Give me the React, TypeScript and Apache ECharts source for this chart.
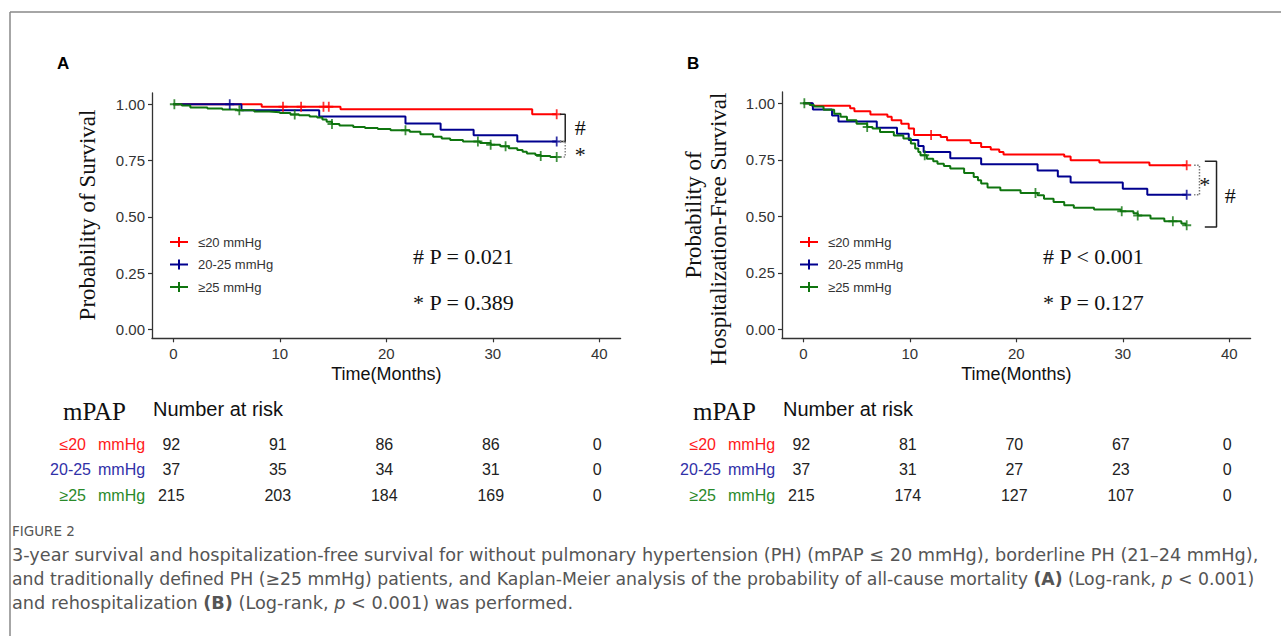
import React, { useEffect, useRef } from "react";
import * as echarts from "echarts";

const SANS = "'Liberation Sans', Arial, sans-serif";
const SERIF = "'Liberation Serif', 'Times New Roman', serif";
const CAP = "'DejaVu Sans', 'Open Sans', sans-serif";

const xTicks = [0, 10, 20, 30, 40];
const yTicks = [0, 0.25, 0.5, 0.75, 1];
const riskTimes = [0, 10, 20, 30, 40];

const legendLabels = ["≤20 mmHg", "20-25 mmHg", "≥25 mmHg"];
const tablePrefixes = ["≤20", "20-25", "≥25"];
const tableUnit = "mmHg";
const groupColors = ["#ff0000", "#00008f", "#0f750f"];
const tableColors = ["#ff1a1a", "#3030a8", "#2a8a2a"];

// Panel A: probability of survival, [month, value]
const survA_le20 = [[0, 1], [8.3, 0.989], [15.7, 0.978], [33.7, 0.956], [36, 0.956]];
const survA_2025 = [[0, 1], [6.4, 0.973], [13.7, 0.946], [21.8, 0.914], [25.1, 0.887], [28.2, 0.862], [32.3, 0.835], [36, 0.835]];
const survA_ge25 = [[0, 1], [0.8, 0.995], [1.6, 0.986], [3.2, 0.981], [4.6, 0.977], [6.0, 0.973], [7.6, 0.968], [9.0, 0.965], [10.0, 0.961], [11.0, 0.955], [11.8, 0.951], [12.8, 0.946], [13.5, 0.941], [14.0, 0.932], [14.4, 0.922], [14.9, 0.912], [15.6, 0.906], [16.9, 0.899], [18.0, 0.895], [19.2, 0.89], [20.4, 0.884], [22.2, 0.878], [23.2, 0.867], [24.4, 0.856], [25.2, 0.848], [26.0, 0.841], [27.2, 0.835], [28.8, 0.828], [29.8, 0.82], [30.7, 0.813], [31.5, 0.805], [32.3, 0.797], [32.8, 0.789], [33.2, 0.781], [34.0, 0.775], [34.5, 0.77], [35.4, 0.766], [36, 0.766]];
const censA_le20 = [10.3, 12.0, 14.1, 14.6, 36];
const censA_2025 = [5.3, 36];
const censA_ge25 = [0.1, 6.2, 11.4, 14.9, 21.8, 28.6, 29.8, 31.2, 34.5, 36];

// Panel B: probability of hospitalization-free survival
const survB_le20 = [[0, 1], [0.8, 0.989], [4.4, 0.978], [4.8, 0.965], [6.3, 0.95], [7.9, 0.94], [8.3, 0.925], [9.2, 0.91], [9.9, 0.888], [10.4, 0.86], [12.9, 0.851], [13.5, 0.836], [15.7, 0.824], [16.7, 0.807], [17.6, 0.795], [18.4, 0.785], [18.8, 0.773], [24.5, 0.765], [25.1, 0.748], [27.8, 0.738], [32.5, 0.726], [36, 0.726]];
const survB_2025 = [[0, 1], [0.9, 0.973], [2.7, 0.946], [3.3, 0.919], [6.9, 0.892], [8.8, 0.865], [9.9, 0.838], [10.8, 0.811], [11.3, 0.784], [13.8, 0.757], [16.7, 0.73], [22.0, 0.703], [23.9, 0.676], [25.1, 0.649], [30.0, 0.622], [32.3, 0.595], [36, 0.595]];
const survB_ge25 = [[0, 1], [0.6, 0.993], [1.0, 0.986], [1.9, 0.972], [2.9, 0.954], [3.5, 0.94], [4.1, 0.925], [5.0, 0.91], [6.0, 0.895], [6.5, 0.888], [7.2, 0.873], [8.5, 0.858], [9.4, 0.844], [10.1, 0.822], [10.5, 0.8], [10.8, 0.785], [11.0, 0.77], [11.6, 0.755], [12.2, 0.744], [12.6, 0.733], [13.2, 0.722], [13.8, 0.711], [15.1, 0.692], [16.0, 0.674], [16.4, 0.66], [16.7, 0.645], [17.3, 0.627], [18.5, 0.615], [20.4, 0.603], [22.0, 0.593], [22.6, 0.578], [23.5, 0.563], [24.5, 0.549], [25.4, 0.538], [27.3, 0.53], [29.8, 0.522], [31.0, 0.513], [31.4, 0.504], [32.6, 0.49], [33.9, 0.478], [35.5, 0.468], [35.9, 0.46], [36, 0.46]];
const censB_le20 = [12.0, 36];
const censB_2025 = [36];
const censB_ge25 = [0.1, 6.0, 11.4, 21.8, 29.9, 31.4, 34.7, 36];

const riskA_le20 = [92, 91, 86, 86, 0];
const riskA_2025 = [37, 35, 34, 31, 0];
const riskA_ge25 = [215, 203, 184, 169, 0];
const riskB_le20 = [92, 81, 70, 67, 0];
const riskB_2025 = [37, 31, 27, 23, 0];
const riskB_ge25 = [215, 174, 127, 107, 0];

const pTextA = ["# P = 0.021", "* P = 0.389"];
const pTextB = ["# P < 0.001", "* P = 0.127"];

const captionTitle = "FIGURE 2";
const captionLines = [
  "3-year survival and hospitalization-free survival for without pulmonary hypertension (PH) (mPAP ≤ 20 mmHg), borderline PH (21–24 mmHg),",
  "and traditionally defined PH (≥25 mmHg) patients, and Kaplan-Meier analysis of the probability of all-cause mortality {b|(A)} (Log-rank, {i|p} < 0.001)",
  "and rehospitalization {b|(B)} (Log-rank, {i|p} < 0.001) was performed.",
];
const captionSizes = [17.7, 17.3, 17.7];

const PLUS = "path://M4,0H6V4H10V6H6V10H4V6H0V4H4Z";

function stepAt(data: number[][], t: number) {
  let v = data[0][1];
  for (const [x, y] of data) if (x <= t) v = y;
  return v;
}
const lastVal = (d: number[][]) => d[d.length - 1][1];

function panelSeries(g: number, curves: number[][][], censors: number[][]) {
  const out: any[] = [];
  curves.forEach((d, k) =>
    out.push({
      type: "line", xAxisIndex: g, yAxisIndex: g, data: d, step: "end", showSymbol: false,
      lineStyle: { color: groupColors[k], width: 2 }, itemStyle: { color: groupColors[k] },
      z: 2 + k, silent: true,
    })
  );
  censors.forEach((c, k) =>
    out.push({
      type: "scatter", xAxisIndex: g, yAxisIndex: g,
      data: c.map((t) => [t, stepAt(curves[k], t)]),
      symbol: PLUS, symbolSize: [9, 10], itemStyle: { color: groupColors[k] },
      z: 5 + k, silent: true,
    })
  );
  return out;
}

function bracket(g: number, x0: number, x1: number, y1: number, y2: number, color: string, type: string) {
  return {
    type: "line", xAxisIndex: g, yAxisIndex: g, showSymbol: false, silent: true, z: 8,
    data: [[x0, y1], [x1, y1], [x1, y2], [x0, y2]],
    lineStyle: { color, width: 1.5, type },
  };
}

function xAxis(g: number) {
  return {
    type: "value", gridIndex: g, min: -2, max: 42,
    axisLine: { show: true, onZero: false, lineStyle: { color: "#333", width: 1.3 } },
    axisTick: { show: true, length: 4, customValues: xTicks, lineStyle: { color: "#333", width: 1.2 } },
    axisLabel: { customValues: xTicks, color: "#333", fontSize: 15, fontFamily: SANS, margin: 8 },
    splitLine: { show: false },
  };
}
function yAxis(g: number) {
  return {
    type: "value", gridIndex: g, min: -0.04, max: 1.05,
    axisLine: { show: true, onZero: false, lineStyle: { color: "#333", width: 1.3 } },
    axisTick: { show: true, length: 4, customValues: yTicks, lineStyle: { color: "#333", width: 1.2 } },
    axisLabel: { customValues: yTicks, color: "#333", fontSize: 15, fontFamily: SANS, margin: 7, formatter: (v: number) => v.toFixed(2) },
    splitLine: { show: false },
  };
}

function txt(x: number, y: number, text: string, font: string, fill: string, align = "left", extra: any = {}) {
  return {
    type: "text", x, y, silent: true, ...extra,
    style: { text, font, fill, textAlign: align, textVerticalAlign: "middle", ...(extra.style || {}) },
  };
}

export default function App() {
  const ref = useRef<HTMLDivElement>(null);
  useEffect(() => {
    if (!ref.current) return;
    const chart = echarts.init(ref.current, null, { renderer: "svg" });
    const curvesA = [survA_le20, survA_2025, survA_ge25];
    const curvesB = [survB_le20, survB_2025, survB_ge25];
    const option: any = {
      animation: false,
      backgroundColor: "#ffffff",
      grid: [
        { left: 152, top: 93, width: 468.6, height: 245.3 },
        { left: 782, top: 92, width: 468.6, height: 246.3 },
      ],
      xAxis: [xAxis(0), xAxis(1)],
      yAxis: [yAxis(0), yAxis(1)],
      series: [
        ...panelSeries(0, curvesA, [censA_le20, censA_2025, censA_ge25]),
        ...panelSeries(1, curvesB, [censB_le20, censB_2025, censB_ge25]),
        bracket(0, 36.3, 36.8, lastVal(survA_le20), lastVal(survA_2025), "#222", "solid"),
        bracket(0, 36.3, 36.8, lastVal(survA_2025), lastVal(survA_ge25), "#888", "dotted"),
        bracket(1, 36.7, 37.2, lastVal(survB_le20), lastVal(survB_2025), "#777", "dotted"),
        bracket(1, 37.7, 38.8, lastVal(survB_le20) + 0.017, lastVal(survB_ge25) - 0.007, "#222", "solid"),
      ],
    };
    chart.setOption(option);

    const px = (g: number, t: number, v: number) => chart.convertToPixel({ gridIndex: g } as any, [t, v]) as number[];
    const g: any[] = [];

    // frame
    g.push({ type: "line", silent: true, shape: { x1: 10, y1: 12, x2: 10, y2: 640 }, style: { stroke: "#888", lineWidth: 1.5 } });
    g.push({ type: "line", silent: true, shape: { x1: 10, y1: 12, x2: 1285, y2: 12 }, style: { stroke: "#888", lineWidth: 1.5 } });

    const panels = [
      { id: "A", dx: 0, grid: 0, curves: curvesA, p: pTextA, risk: [riskA_le20, riskA_2025, riskA_ge25] },
      { id: "B", dx: 630, grid: 1, curves: curvesB, p: pTextB, risk: [riskB_le20, riskB_2025, riskB_ge25] },
    ];
    const prefixRight = [86, 91, 86];
    panels.forEach((P) => {
      const dx = P.dx;
      g.push(txt(57 + dx, 63, P.id, `bold 17px ${SANS}`, "#000"));
      // legend
      legendLabels.forEach((lab, k) => {
        const y = 242 + k * 22.5;
        g.push({ type: "line", silent: true, shape: { x1: 170 + dx, y1: y, x2: 188 + dx, y2: y }, style: { stroke: groupColors[k], lineWidth: 2 } });
        g.push({ type: "line", silent: true, shape: { x1: 179 + dx, y1: y - 5, x2: 179 + dx, y2: y + 5 }, style: { stroke: groupColors[k], lineWidth: 2 } });
        g.push(txt(198 + dx, y, lab, `13px ${SANS}`, "#333"));
      });
      // p values
      g.push(txt(413 + dx, 256, P.p[0], `22px ${SERIF}`, "#111"));
      g.push(txt(413 + dx, 302, P.p[1], `22px ${SERIF}`, "#111"));
      // x title
      const c20 = px(P.grid, 20, 0);
      g.push(txt(c20[0], 374, "Time(Months)", `18px ${SANS}`, "#111", "center"));
      // table
      g.push(txt(63 + dx, 411, "mPAP", `25px ${SERIF}`, "#111"));
      g.push(txt(153 + dx, 409, "Number at risk", `20px ${SANS}`, "#111"));
      P.risk.forEach((row, k) => {
        const y = 444 + k * 25.5;
        g.push(txt(prefixRight[k] + dx, y, tablePrefixes[k], `16px ${SANS}`, tableColors[k], "right"));
        g.push(txt(98 + dx, y, tableUnit, `16px ${SANS}`, tableColors[k], "left"));
        row.forEach((n, j) => {
          const p = px(P.grid, riskTimes[j], 0);
          g.push(txt(p[0] - 2, y, String(n), `16px ${SANS}`, "#222", "center"));
        });
      });
    });

    // y titles
    g.push(txt(87, 215, "Probability of Survival", `23px ${SERIF}`, "#111", "center", { rotation: Math.PI / 2 }));
    g.push(txt(693, 215, "Probability of", `23px ${SERIF}`, "#111", "center", { rotation: Math.PI / 2 }));
    g.push(txt(718, 229, "Hospitalization-Free Survival", `23px ${SERIF}`, "#111", "center", { rotation: Math.PI / 2 }));

    // bracket symbols
    const hA = px(0, 38.2, (lastVal(survA_le20) + lastVal(survA_2025)) / 2);
    g.push(txt(hA[0], hA[1], "#", `22px ${SERIF}`, "#111", "center"));
    const sA = px(0, 38.2, (lastVal(survA_2025) + lastVal(survA_ge25)) / 2);
    g.push(txt(sA[0], sA[1] + 5, "*", `22px ${SERIF}`, "#111", "center"));
    const sB = px(1, 37.7, (lastVal(survB_le20) + lastVal(survB_2025)) / 2);
    g.push(txt(sB[0], sB[1] + 4, "*", `22px ${SERIF}`, "#111", "center"));
    const hB = px(1, 40.1, (lastVal(survB_le20) + lastVal(survB_ge25)) / 2);
    g.push(txt(hB[0], hB[1], "#", `22px ${SERIF}`, "#111", "center"));

    // caption
    g.push(txt(12, 531, captionTitle, `13.5px ${CAP}`, "#555"));
    captionLines.forEach((line, i) => {
      const s = captionSizes[i];
      g.push({
        type: "text", x: 12, y: 555 + i * 24, silent: true,
        style: {
          text: line, font: `${s}px ${CAP}`, fill: "#555", textAlign: "left", textVerticalAlign: "middle",
          rich: {
            b: { fontWeight: "bold", fontSize: s, fontFamily: CAP, fill: "#555" },
            i: { fontStyle: "italic", fontSize: s, fontFamily: CAP, fill: "#555" },
          },
        },
      });
    });

    chart.setOption({ graphic: { elements: g } });
    return () => chart.dispose();
  }, []);
  return (
    <div
      ref={ref}
      style={{ position: "fixed", left: 0, top: 0, width: 1281, height: 636, background: "#fff" }}
    />
  );
}
